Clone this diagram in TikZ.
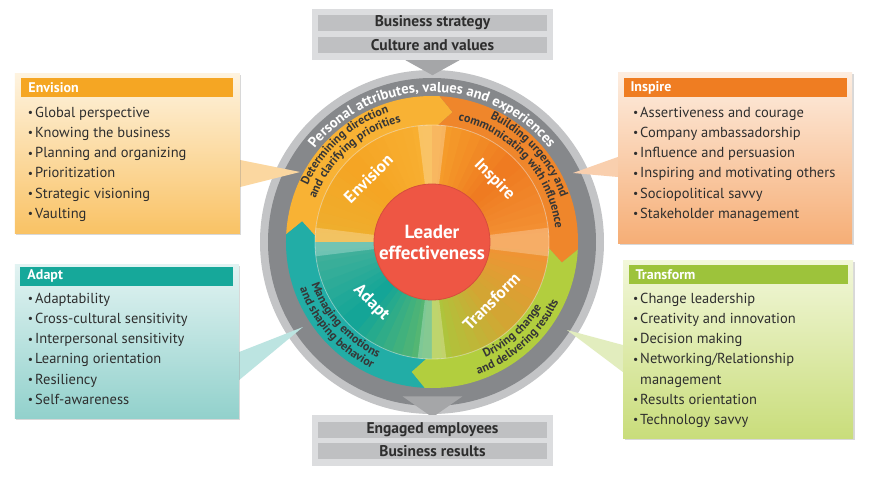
\documentclass[tikz,border=0pt]{standalone}
\usepackage{fontspec}
\setmainfont{PT Sans}
\usepackage{xcolor}
\usetikzlibrary{decorations.text,shadows}

\pgfdeclarelayer{paper}
\pgfdeclarelayer{ring}
\pgfdeclarelayer{link}
\pgfsetlayers{paper,ring,link,main}

\definecolor{grayrim}{HTML}{C3C4C6}
\definecolor{grayband}{HTML}{86888B}
\definecolor{boxgray}{HTML}{DCDDDF}
\definecolor{bargray}{HTML}{BFC0C2}
\definecolor{pointgray}{HTML}{A5A6A8}
\definecolor{ink}{HTML}{2E2E2E}
\definecolor{bandink}{HTML}{363636}
\definecolor{leaderred}{HTML}{EE5644}
\definecolor{envband}{HTML}{F8B234}
\definecolor{insband}{HTML}{EF862B}
\definecolor{traband}{HTML}{B2CE3E}
\definecolor{adaband}{HTML}{22ADA6}
\definecolor{envbar}{HTML}{F5A623}
\definecolor{envtop}{HTML}{FEF3DF}
\definecolor{envbot}{HTML}{F9C264}
\definecolor{envlink}{HTML}{FBD7A0}
\definecolor{insbar}{HTML}{EF7D22}
\definecolor{instop}{HTML}{FDEDE0}
\definecolor{insbot}{HTML}{F6AE76}
\definecolor{inslink}{HTML}{F9CFAE}
\definecolor{adabar}{HTML}{16A89A}
\definecolor{adatop}{HTML}{E2F3F2}
\definecolor{adabot}{HTML}{92D1CC}
\definecolor{adalink}{HTML}{BCE4E1}
\definecolor{trabar}{HTML}{9DC33B}
\definecolor{tratop}{HTML}{F2F7DA}
\definecolor{trabot}{HTML}{C9DD7B}
\definecolor{tralink}{HTML}{E2EDBE}
% inner disc stops
\definecolor{oA}{HTML}{F39234}
\definecolor{oB}{HTML}{EF7B21}
\definecolor{oC}{HTML}{F6A02B}
\definecolor{yA}{HTML}{F8B033}
\definecolor{yB}{HTML}{F5A524}
\definecolor{yC}{HTML}{EEAF2E}
\definecolor{tA}{HTML}{45B19A}
\definecolor{tB}{HTML}{14A597}
\definecolor{tC}{HTML}{5DB86E}
\definecolor{gA}{HTML}{A9C83D}
\definecolor{gB}{HTML}{D3A533}
\definecolor{gC}{HTML}{F39234}

\newcommand{\itm}{\raisebox{0.6pt}{\scalebox{0.8}{\textbullet}}\hspace{2pt}}
\newcommand{\itmgap}{\hphantom{\itm}}

\tikzset{
	listbox/.style={drop shadow={shadow xshift=1.5pt,shadow yshift=-1.5pt,opacity=0.3}, inner sep=0pt},
	headbar/.style={inner xsep=7pt, inner ysep=0pt, minimum height=19pt, text=white, align=left, font=\bfseries\fontsize{14}{16}\selectfont},
	itemlist/.style={inner sep=0pt, align=left, text=ink, font=\fontsize{14.5}{20.2}\selectfont},
	framebox/.style={fill=boxgray, minimum width=241pt, minimum height=51pt, inner sep=0pt},
	graybar/.style={fill=bargray, minimum width=229pt, minimum height=16pt, inner sep=0pt, text=ink, font=\bfseries\fontsize{15.5}{16}\selectfont},
	wheellabel/.style={text=white, inner sep=0pt, font=\bfseries\fontsize{17}{19}\selectfont},
	leader/.style={circle, fill=leaderred, draw=leaderred!90!black, line width=0.8pt, minimum size=116pt, inner sep=0pt, text=white, align=center, font=\bfseries\fontsize{19}{21}\selectfont},
	bandtext/.style={decorate, decoration={text along path, text align=center, text color=bandink, text={|\bfseries\fontsize{12}{13}\selectfont|#1}}}
}

\begin{document}
\begin{tikzpicture}[x=1pt,y=1pt]
	\begin{pgfonlayer}{paper}
		\fill[white] (-432,-237) rectangle (438,242);
	\end{pgfonlayer}
	\useasboundingbox (-432,-237) rectangle (438,242);

	% gray ring
	\begin{pgfonlayer}{ring}
		\fill[grayrim] (0,0) circle (172pt);
		\fill[grayband] (0,0) circle (164pt);
	\end{pgfonlayer}
	\path[decorate, decoration={text along path, text align=center, text color=white, text={|\bfseries\fontsize{14.5}{16}\selectfont|Personal attributes, values and experiences}}] (152:150pt) arc (152:28:150pt);

	% chevron band
	\foreach \a/\b/\c in {177/87/envband,87/-3/insband,-3/-93/traband,-93/-183/adaband}
		\fill[\c] (\a:146pt) arc (\a:\b:146pt) -- ({\b-6}:131.5pt) -- (\b:117pt) arc (\b:\a:117pt) -- ({\a-6}:131.5pt) -- cycle;

	% inner disc
	\foreach \a/\ca/\cb in {0/oA/oB,45/oB/oC,90/yA/yB,135/yB/yC,180/tA/tB,225/tB/tC,270/gA/gB,315/gB/gC}{
		\foreach \i in {0,...,8}{
			\pgfmathtruncatemacro\p{\i*12.5}
			\fill[\cb!\p!\ca] (0,0) -- ({\a+\i*5}:117pt) arc ({\a+\i*5}:{\a+\i*5+5.5}:117pt) -- cycle;
		}
	}
	\foreach \s in {0,90,180,270}
		\fill[white,opacity=0.25] (0,0) -- ({\s-7}:117pt) arc ({\s-7}:{\s+7}:117pt) -- cycle;
	\draw[white,opacity=0.4,line width=0.8pt] (0,0) circle (117pt);

	\path[bandtext={Determining direction}] (177:136.5pt) arc (177:87:136.5pt);
	\path[bandtext={and clarifying priorities}] (177:124pt) arc (177:87:124pt);
	\path[bandtext={Building urgency and}] (87:136.5pt) arc (87:-3:136.5pt);
	\path[bandtext={communicating with influence}] (87:124pt) arc (87:-3:124pt);
	\path[bandtext={Driving change}] (-93:127.5pt) arc (-93:-3:127.5pt);
	\path[bandtext={and delivering results}] (-93:140pt) arc (-93:-3:140pt);
	\path[bandtext={Managing emotions}] (-183:127.5pt) arc (-183:-93:127.5pt);
	\path[bandtext={and shaping behavior}] (-183:140pt) arc (-183:-93:140pt);

	\node[wheellabel,rotate=45] (envlabel) at (135:90pt) {Envision};
	\node[wheellabel,rotate=-45] (inslabel) at (45:88pt) {Inspire};
	\node[wheellabel,rotate=45] (tralabel) at (-45:84pt) {Transform};
	\node[wheellabel,rotate=-45] (adalabel) at (-135:86pt) {Adapt};

	\node[leader] (leader) at (0,0) {Leader\\effectiveness};

	% top and bottom frames
	\node[framebox] (topbox) at (0.5,207.5) {};
	\node[graybar] (strategy) at (0.5,219) {Business strategy};
	\node[graybar] (culture) at (0.5,197) {Culture and values};
	\fill[pointgray] ([xshift=-27pt]topbox.south) -- ([xshift=27pt]topbox.south) -- ([yshift=-15pt]topbox.south) -- cycle;

	\node[framebox] (botbox) at (0.5,-198) {};
	\node[graybar] (employees) at (0.5,-187.5) {Engaged employees};
	\node[graybar] (results) at (0.5,-209) {Business results};
	\begin{pgfonlayer}{link}
		\fill[pointgray] ([xshift=-30pt,yshift=18pt]botbox.north) -- ([xshift=30pt,yshift=18pt]botbox.north) -- ([yshift=-3pt]botbox.north) -- cycle;
	\end{pgfonlayer}

	% four boxes
	\node[listbox, top color=envtop, bottom color=envbot, minimum width=225pt, minimum height=160pt] (envbox) at (-304.5,88) {};
	\node[headbar, fill=envbar, text width=198pt, anchor=north] (envhead) at ([yshift=-4pt]envbox.north) {Envision};
	\node[itemlist, anchor=north west] (envlist) at ([xshift=13pt,yshift=-33pt]envbox.north west) {\itm Global perspective\\ \itm Knowing the business\\ \itm Planning and organizing\\ \itm Prioritization\\ \itm Strategic visioning\\ \itm Vaulting};

	\node[listbox, top color=instop, bottom color=insbot, minimum width=234pt, minimum height=170pt] (insbox) at (303,84) {};
	\node[headbar, fill=insbar, text width=209pt, anchor=north] (inshead) at ([yshift=-5pt]insbox.north) {Inspire};
	\node[itemlist, anchor=north west] (inslist) at ([xshift=15pt,yshift=-34pt]insbox.north west) {\itm Assertiveness and courage\\ \itm Company ambassadorship\\ \itm Influence and persuasion\\ \itm Inspiring and motivating others\\ \itm Sociopolitical savvy\\ \itm Stakeholder management};

	\node[listbox, top color=adatop, bottom color=adabot, minimum width=224pt, minimum height=154pt] (adabox) at (-305,-99) {};
	\node[headbar, fill=adabar, text width=199pt, anchor=north] (adahead) at ([yshift=-2.5pt]adabox.north) {Adapt};
	\node[itemlist, anchor=north west] (adalist) at ([xshift=13pt,yshift=-29pt]adabox.north west) {\itm Adaptability\\ \itm Cross-cultural sensitivity\\ \itm Interpersonal sensitivity\\ \itm Learning orientation\\ \itm Resiliency\\ \itm Self-awareness};

	\node[listbox, top color=tratop, bottom color=trabot, minimum width=230pt, minimum height=178pt] (trabox) at (306,-107) {};
	\node[headbar, fill=trabar, text width=205pt, anchor=north] (trahead) at ([yshift=-5pt]trabox.north) {Transform};
	\node[itemlist, anchor=north west] (tralist) at ([xshift=10pt,yshift=-33pt]trabox.north west) {\itm Change leadership\\ \itm Creativity and innovation\\ \itm Decision making\\ \itm Networking/Relationship\\ \itmgap management\\ \itm Results orientation\\ \itm Technology savvy};

	% pointers to the wheel
	\coordinate (envtip) at (-132,70);
	\coordinate (instip) at (141,69);
	\coordinate (adatip) at (-129,-85);
	\coordinate (tratip) at (135,-88);
	\begin{pgfonlayer}{link}
		\fill[envlink] ([yshift=-6pt]envbox.east) -- (envtip) -- ([yshift=-33pt]envbox.east) -- cycle;
		\fill[inslink] ([yshift=1pt]insbox.west) -- (instip) -- ([yshift=-19pt]insbox.west) -- cycle;
		\fill[adalink] ([yshift=-11pt]adabox.east) -- (adatip) -- ([yshift=-39pt]adabox.east) -- cycle;
		\fill[tralink] ([yshift=4pt]trabox.west) -- (tratip) -- ([yshift=-23pt]trabox.west) -- cycle;
	\end{pgfonlayer}
\end{tikzpicture}
\end{document}
